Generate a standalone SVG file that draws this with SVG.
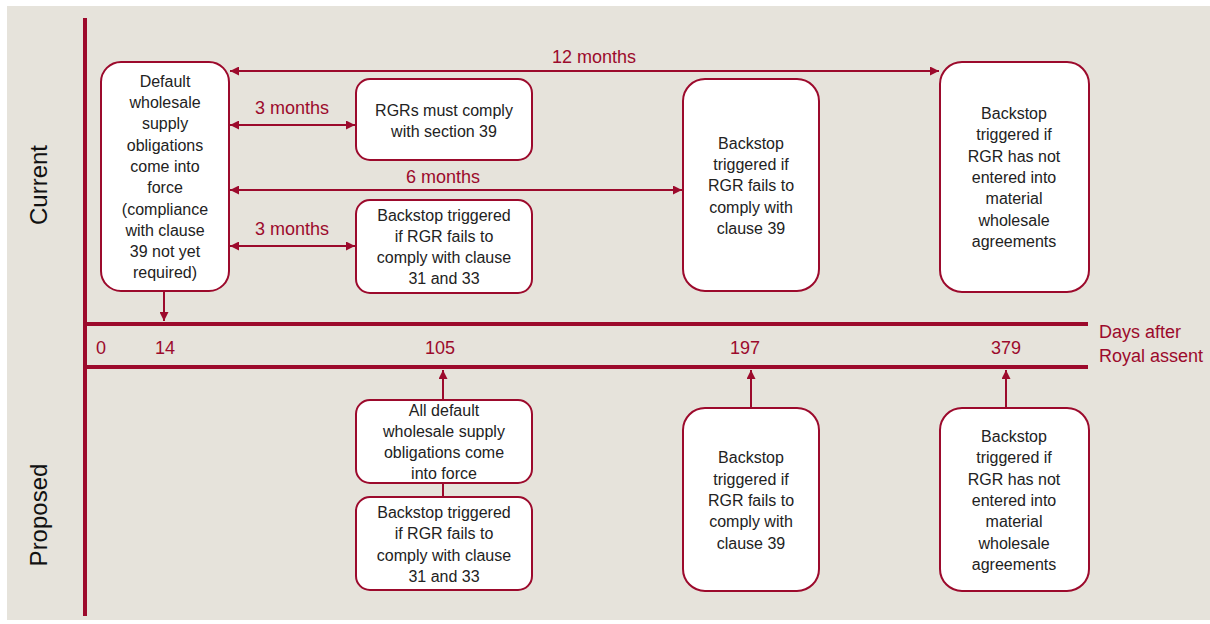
<svg xmlns="http://www.w3.org/2000/svg" width="1210" height="624" viewBox="0 0 1210 624">
<defs>
<style>
.box{fill:#fff;stroke:#9c0a2c;stroke-width:2}
.t{font-family:"Liberation Sans",Arial,sans-serif;font-size:16px;fill:#222;text-anchor:middle}
.lbl{font-family:"Liberation Sans",Arial,sans-serif;font-size:18px;fill:#9c0a2c;text-anchor:middle}
.axis{stroke:#9c0a2c;stroke-width:4;fill:none}
.con{stroke:#9c0a2c;stroke-width:2;fill:none}
.side{font-family:"Liberation Sans",Arial,sans-serif;font-size:24px;fill:#111;text-anchor:middle}
</style>
<marker id="ah" viewBox="0 0 10 10" refX="10" refY="5" markerWidth="9" markerHeight="9" markerUnits="userSpaceOnUse" orient="auto-start-reverse">
<path d="M0,0 L10,5 L0,10 z" fill="#9c0a2c"/>
</marker>
</defs>
<rect x="7" y="6" width="1203" height="614" fill="#e6e3db"/>
<g id="axes">
<line class="axis" x1="85" y1="18" x2="85" y2="616"/>
<line class="axis" x1="85" y1="324" x2="1088" y2="324"/>
<line class="axis" x1="85" y1="367" x2="1088" y2="367"/>
<text class="side" transform="translate(47,185) rotate(-90)">Current</text>
<text class="side" transform="translate(47,515) rotate(-90)">Proposed</text>
<text class="lbl" x="101" y="354">0</text>
<text class="lbl" x="165" y="354">14</text>
<text class="lbl" x="440" y="354">105</text>
<text class="lbl" x="745" y="354">197</text>
<text class="lbl" x="1006" y="354">379</text>
<text class="lbl" x="1099" y="338" style="text-anchor:start">Days after</text>
<text class="lbl" x="1099" y="362" style="text-anchor:start">Royal assent</text>
</g>
<g id="connectors">
<line class="con" x1="230" y1="71" x2="939" y2="71" marker-start="url(#ah)" marker-end="url(#ah)"/>
<text class="lbl" x="594" y="63">12 months</text>
<line class="con" x1="230" y1="125" x2="355" y2="125" marker-start="url(#ah)" marker-end="url(#ah)"/>
<text class="lbl" x="292" y="114">3 months</text>
<line class="con" x1="230" y1="190" x2="682" y2="190" marker-start="url(#ah)" marker-end="url(#ah)"/>
<text class="lbl" x="443" y="183">6 months</text>
<line class="con" x1="230" y1="246" x2="355" y2="246" marker-start="url(#ah)" marker-end="url(#ah)"/>
<text class="lbl" x="292" y="235">3 months</text>
<line class="con" x1="164" y1="292" x2="164" y2="321" marker-end="url(#ah)"/>
<line class="con" x1="443" y1="399" x2="443" y2="370" marker-end="url(#ah)"/>
<line class="con" x1="443" y1="483" x2="443" y2="497"/>
<line class="con" x1="751" y1="407" x2="751" y2="370" marker-end="url(#ah)"/>
<line class="con" x1="1006" y1="407" x2="1006" y2="370" marker-end="url(#ah)"/>
</g>
<g id="n-default">
<rect class="box" x="101" y="62" width="128" height="229" rx="20"/>
<text class="t" x="165"><tspan x="165" y="87">Default</tspan><tspan x="165" y="108">wholesale</tspan><tspan x="165" y="129">supply</tspan><tspan x="165" y="151">obligations</tspan><tspan x="165" y="172">come into</tspan><tspan x="165" y="193">force</tspan><tspan x="165" y="215">(compliance</tspan><tspan x="165" y="236">with clause</tspan><tspan x="165" y="257">39 not yet</tspan><tspan x="165" y="278">required)</tspan></text>
</g>
<g id="n-rgrs">
<rect class="box" x="356" y="79" width="176" height="81" rx="14"/>
<text class="t"><tspan x="444" y="116">RGRs must comply</tspan><tspan x="444" y="137">with section 39</tspan></text>
</g>
<g id="n-backstop-3133-current">
<rect class="box" x="356" y="200" width="176" height="93" rx="14"/>
<text class="t"><tspan x="444" y="221">Backstop triggered</tspan><tspan x="444" y="242">if RGR fails to</tspan><tspan x="444" y="263">comply with clause</tspan><tspan x="444" y="284">31 and 33</tspan></text>
</g>
<g id="n-backstop-39-current">
<rect class="box" x="683" y="79" width="136" height="212" rx="22"/>
<text class="t"><tspan x="751" y="149">Backstop</tspan><tspan x="751" y="170">triggered if</tspan><tspan x="751" y="191">RGR fails to</tspan><tspan x="751" y="213">comply with</tspan><tspan x="751" y="234">clause 39</tspan></text>
</g>
<g id="n-backstop-material-current">
<rect class="box" x="940" y="62" width="149" height="230" rx="22"/>
<text class="t"><tspan x="1014" y="119">Backstop</tspan><tspan x="1014" y="140">triggered if</tspan><tspan x="1014" y="162">RGR has not</tspan><tspan x="1014" y="183">entered into</tspan><tspan x="1014" y="204">material</tspan><tspan x="1014" y="226">wholesale</tspan><tspan x="1014" y="247">agreements</tspan></text>
</g>
<g id="n-all-default">
<rect class="box" x="356" y="400" width="176" height="83" rx="14"/>
<text class="t"><tspan x="444" y="416">All default</tspan><tspan x="444" y="437">wholesale supply</tspan><tspan x="444" y="458">obligations come</tspan><tspan x="444" y="479">into force</tspan></text>
</g>
<g id="n-backstop-3133-proposed">
<rect class="box" x="356" y="497" width="176" height="93" rx="14"/>
<text class="t"><tspan x="444" y="518">Backstop triggered</tspan><tspan x="444" y="539">if RGR fails to</tspan><tspan x="444" y="561">comply with clause</tspan><tspan x="444" y="582">31 and 33</tspan></text>
</g>
<g id="n-backstop-39-proposed">
<rect class="box" x="683" y="408" width="136" height="183" rx="22"/>
<text class="t"><tspan x="751" y="463">Backstop</tspan><tspan x="751" y="485">triggered if</tspan><tspan x="751" y="506">RGR fails to</tspan><tspan x="751" y="527">comply with</tspan><tspan x="751" y="549">clause 39</tspan></text>
</g>
<g id="n-backstop-material-proposed">
<rect class="box" x="940" y="408" width="149" height="183" rx="22"/>
<text class="t"><tspan x="1014" y="442">Backstop</tspan><tspan x="1014" y="463">triggered if</tspan><tspan x="1014" y="485">RGR has not</tspan><tspan x="1014" y="506">entered into</tspan><tspan x="1014" y="527">material</tspan><tspan x="1014" y="549">wholesale</tspan><tspan x="1014" y="570">agreements</tspan></text>
</g>
</svg>
